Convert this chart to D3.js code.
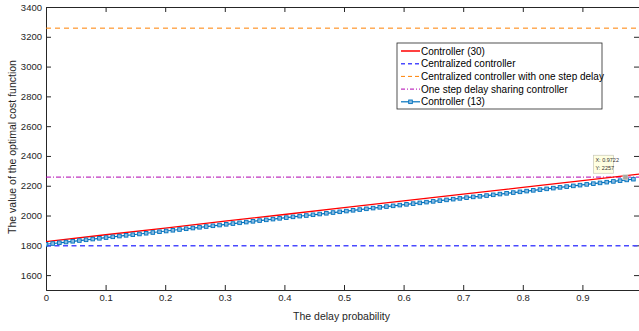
<!DOCTYPE html>
<html>
<head>
<meta charset="utf-8">
<script src="https://cdn.jsdelivr.net/npm/d3@7"></script>
<style>
    body { margin: 0; background: #fff; }
    #chart { width: 639px; height: 331px; }
    text { font-family: 'Liberation Sans', Arial, sans-serif; }
</style>
</head>
<body>
<div id="chart"></div>
<script>
// data
const yTicks = [1600, 1800, 2000, 2200, 2400, 2600, 2800, 3000, 3200, 3400];
const xTicks = [0, 0.1, 0.2, 0.3, 0.4, 0.5, 0.6, 0.7, 0.8, 0.9];

const redProb = [0, 0.1, 0.2, 0.3, 0.4, 0.5, 0.6, 0.7, 0.8, 0.9, 1];
const redCost = [1825, 1871, 1916, 1962, 2007, 2053, 2098, 2144, 2189, 2235, 2280];

const centralizedCost = 1797;
const oneStepDelayCost = 3258;
const sharingCost = 2258;

const markerStep = 0.0112;
const ctrl13Cost = [
    1807, 1812, 1817, 1822, 1827, 1832, 1837, 1842, 1847, 1852,
    1857, 1862, 1867, 1871, 1876, 1881, 1886, 1891, 1896, 1901,
    1906, 1911, 1916, 1921, 1926, 1931, 1936, 1941, 1946, 1951,
    1956, 1961, 1966, 1971, 1976, 1981, 1986, 1991, 1996, 2000,
    2005, 2010, 2015, 2020, 2025, 2030, 2035, 2040, 2045, 2050,
    2055, 2060, 2065, 2070, 2075, 2080, 2085, 2090, 2095, 2100,
    2105, 2110, 2115, 2120, 2125, 2129, 2134, 2139, 2144, 2149,
    2154, 2159, 2164, 2169, 2174, 2179, 2184, 2189, 2194, 2199,
    2204, 2209, 2214, 2219, 2224, 2229, 2234, 2239, 2244
];

const tip = { x: 0.9722, y: 2257 };

const legendLabels = [
    'Controller (30)',
    'Centralized controller',
    'Centralized controller with one step delay',
    'One step delay sharing controller',
    'Controller (13)'
];

const width = 639, height = 331;
const plotLeft = 46, plotRight = 642, plotTop = 7, plotBottom = 290;
const axisColor = '#262626';

const x = d3.scaleLinear().domain([0, 1]).range([plotLeft, plotRight]);
const y = d3.scaleLinear().domain([1500, 3400]).range([plotBottom, plotTop]);

const svg = d3.select('#chart').append('svg')
    .attr('width', width)
    .attr('height', height);

svg.append('clipPath').attr('id', 'plot-clip')
    .append('rect')
    .attr('x', plotLeft).attr('y', plotTop)
    .attr('width', plotRight - plotLeft).attr('height', plotBottom - plotTop);

// axes (MATLAB style, ticks inward, box on)
const xAxis = svg.append('g')
    .attr('transform', `translate(0,${plotBottom})`)
    .call(d3.axisBottom(x).tickValues(xTicks).tickSize(-5).tickPadding(4)
        .tickFormat(d => d === 0 ? '0' : d3.format('.1f')(d)));

const xTop = svg.append('g')
    .attr('transform', `translate(0,${plotTop})`)
    .call(d3.axisTop(x).tickValues(xTicks).tickSize(-5).tickFormat(''));

const yAxis = svg.append('g')
    .attr('transform', `translate(${plotLeft},0)`)
    .call(d3.axisLeft(y).tickValues(yTicks).tickSize(-5).tickPadding(4)
        .tickFormat(d3.format('d')));

const yRight = svg.append('g')
    .attr('transform', `translate(${plotRight - 3},0)`)
    .call(d3.axisRight(y).tickValues(yTicks).tickSize(-5).tickFormat(''));

[xAxis, xTop, yAxis, yRight].forEach(g => {
    g.select('.domain').attr('stroke', axisColor).attr('stroke-width', 1);
    g.selectAll('.tick line').attr('stroke', axisColor).attr('stroke-width', 1);
    g.selectAll('text')
        .attr('fill', axisColor)
        .style('font-size', '9.5px')
        .style('font-family', "'Liberation Sans', Arial, sans-serif");
});

// axis labels
svg.append('text')
    .attr('x', (plotLeft + 637) / 2)
    .attr('y', 320)
    .attr('text-anchor', 'middle')
    .attr('fill', axisColor)
    .style('font-size', '10.5px')
    .text('The delay probability');

svg.append('text')
    .attr('transform', `translate(15.5,147) rotate(-90)`)
    .attr('text-anchor', 'middle')
    .attr('fill', axisColor)
    .style('font-size', '10.5px')
    .text('The value of the optimal cost function');

const plot = svg.append('g').attr('clip-path', 'url(#plot-clip)');

// horizontal reference lines
plot.append('line')
    .attr('x1', x(0)).attr('x2', x(1))
    .attr('y1', y(oneStepDelayCost)).attr('y2', y(oneStepDelayCost))
    .attr('stroke', '#ff8000').attr('stroke-width', 1)
    .attr('stroke-dasharray', '5,4');

plot.append('line')
    .attr('x1', x(0)).attr('x2', x(1))
    .attr('y1', y(sharingCost)).attr('y2', y(sharingCost))
    .attr('stroke', '#b000b0').attr('stroke-width', 1)
    .attr('stroke-dasharray', '5,2,1,2');

plot.append('line')
    .attr('x1', x(0)).attr('x2', x(1))
    .attr('y1', y(centralizedCost)).attr('y2', y(centralizedCost))
    .attr('stroke', '#4a4aff').attr('stroke-width', 1.5)
    .attr('stroke-dasharray', '5,3.5');

// controller (30)
const redLine = d3.line()
    .x((d, i) => x(redProb[i]))
    .y(d => y(d));

plot.append('path')
    .attr('fill', 'none')
    .attr('stroke', '#ff0000')
    .attr('stroke-width', 1.3)
    .attr('d', redLine(redCost));

// controller (13)
const ctrl13 = ctrl13Cost.map((c, i) => [i * markerStep, c]);

plot.append('path')
    .attr('fill', 'none')
    .attr('stroke', '#0072bd')
    .attr('stroke-width', 1.2)
    .attr('d', d3.line().x(d => x(d[0])).y(d => y(d[1]))(ctrl13));

plot.append('g')
    .selectAll('rect')
    .data(ctrl13)
    .join('rect')
    .attr('x', d => x(d[0]) - 1.8)
    .attr('y', d => y(d[1]) - 1.8)
    .attr('width', 3.6)
    .attr('height', 3.6)
    .attr('fill', '#8cbce2')
    .attr('stroke', '#0072bd')
    .attr('stroke-width', 0.9);

// data tip
svg.append('rect')
    .attr('x', x(tip.x) - 2.5)
    .attr('y', y(tip.y) - 2.5)
    .attr('width', 5).attr('height', 5)
    .attr('fill', '#a8a8a0')
    .attr('stroke', '#e0e0d8').attr('stroke-width', 0.5);

const tipG = svg.append('g')
    .attr('transform', `translate(${x(tip.x) - 32},${y(tip.y) - 22})`);

tipG.append('rect')
    .attr('width', 20).attr('height', 18)
    .attr('fill', '#ffffe1')
    .attr('stroke', '#c8c8b8').attr('stroke-width', 0.7);

tipG.append('text').attr('x', 2).attr('y', 7)
    .attr('fill', '#333').style('font-size', '5.5px')
    .text(`X: ${tip.x}`);
tipG.append('text').attr('x', 2).attr('y', 14.5)
    .attr('fill', '#333').style('font-size', '5.5px')
    .text(`Y: ${tip.y}`);

// legend
const legend = svg.append('g').attr('transform', 'translate(397,43)');

legend.append('rect')
    .attr('width', 205).attr('height', 66)
    .attr('fill', '#fff')
    .attr('stroke', axisColor).attr('stroke-width', 0.8);

const legendStyles = [
    { color: '#ff0000', dash: null, width: 1.5 },
    { color: '#4a4aff', dash: '4,3', width: 1.5 },
    { color: '#ff8000', dash: '4,3', width: 1 },
    { color: '#b000b0', dash: '4,2,1,2', width: 1 },
    { color: '#0072bd', dash: null, width: 1.2, marker: true }
];

legendLabels.forEach((label, i) => {
    const st = legendStyles[i];
    const ly = 8 + i * 12.7;
    const row = legend.append('g').attr('transform', `translate(0,${ly})`);
    row.append('line')
        .attr('x1', 4).attr('x2', 23)
        .attr('stroke', st.color)
        .attr('stroke-width', st.width)
        .attr('stroke-dasharray', st.dash);
    if (st.marker) {
        row.append('rect')
            .attr('x', 11.7).attr('y', -1.8).attr('width', 3.6).attr('height', 3.6)
            .attr('fill', '#8cbce2').attr('stroke', st.color).attr('stroke-width', 0.9);
    }
    row.append('text')
        .attr('x', 24)
        .attr('y', 0)
        .attr('dominant-baseline', 'central')
        .attr('fill', '#000')
        .style('font-size', '10px')
        .text(label);
});
</script>
</body>
</html>
